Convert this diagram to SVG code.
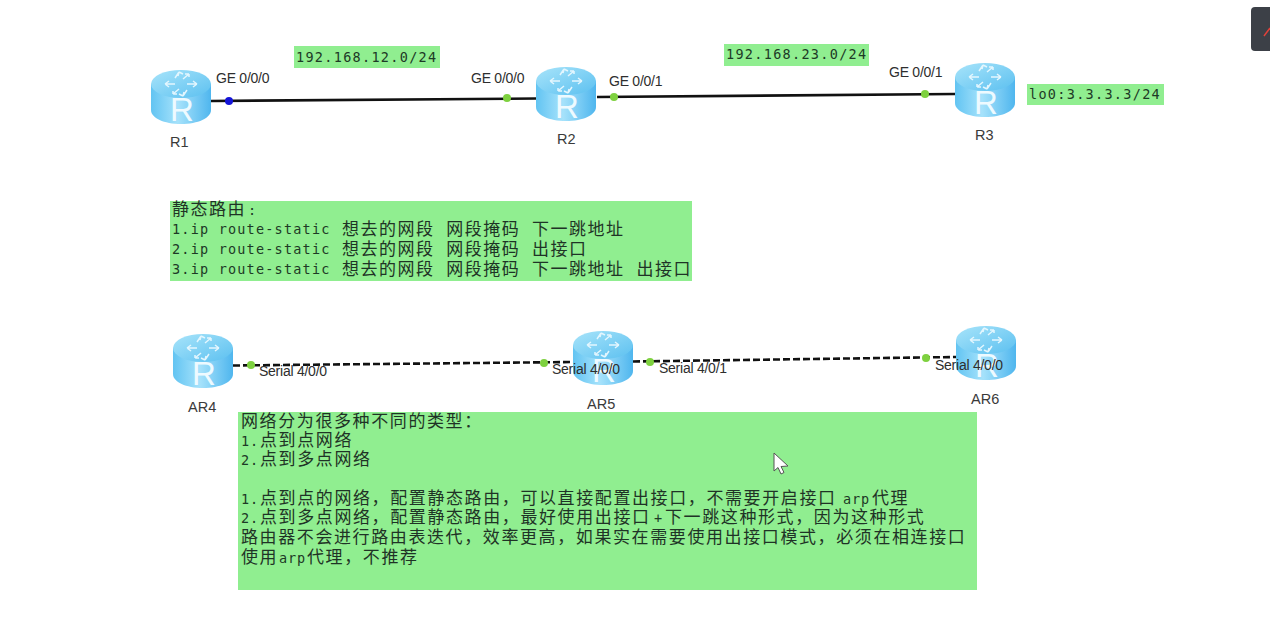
<svg xmlns="http://www.w3.org/2000/svg" width="1270" height="619" viewBox="0 0 1270 619">
<style>
.lbl{font-family:"Liberation Sans",Arial,sans-serif;font-size:14.5px;fill:#3a3a3a}
.if{font-family:"Liberation Sans",Arial,sans-serif;font-size:14px;fill:#2e2e2e;letter-spacing:-.25px}
.note{fill:#90ee90}
.mono{font-family:"DejaVu Sans Mono","Noto Sans CJK SC",monospace;font-size:13.5px;fill:#1d3a26;letter-spacing:.9px}
.cmd{font-family:"DejaVu Sans Mono",monospace;font-size:13.5px;fill:#1d3a26;letter-spacing:1.2px}
.net{font-family:"DejaVu Sans Mono",monospace;font-size:13.5px;fill:#1d3a26;letter-spacing:1.3px}
.cn{font-family:"Noto Sans CJK SC",sans-serif;font-size:17px;fill:#1f3326;letter-spacing:1.5px;word-spacing:6.5px}
.cn2{font-family:"Noto Sans CJK SC",sans-serif;font-size:17px;fill:#1f3326;letter-spacing:1.6px}
.solid{stroke:#111;stroke-width:2.6;fill:none}
.dash{stroke:#111;stroke-width:2.6;fill:none;stroke-dasharray:7 3}
.pg{fill:#7ed13f}
.pb{fill:#1414d8}
.rt{font-family:"Liberation Sans",Arial,sans-serif;font-size:33px;fill:#eefaff;text-anchor:middle}
</style>
<defs>
<linearGradient id="side" x1="0" x2="1" y1="0" y2="0">
<stop offset="0" stop-color="#62c4f2"/><stop offset=".45" stop-color="#a6e2fb"/><stop offset="1" stop-color="#4fb6ee"/>
</linearGradient>
<linearGradient id="top" x1="0" x2="1" y1="0" y2="1">
<stop offset="0" stop-color="#a8e4fa"/><stop offset="1" stop-color="#5cc0f0"/>
</linearGradient>
<g id="router">
<path d="M-30-13V13C-30 21-17 27 0 27S30 21 30 13V-13Z" fill="url(#side)"/>
<ellipse cx="0" cy="-13" rx="30" ry="14" fill="url(#top)"/>
<path d="M-16-13H-6M-16-13-12-16M-16-13-12-10M16-13H6M16-13 12-16M16-13 12-10M-2-25-6-19M-2-25 2-23M-2-25-3-21M2-1 6-7M2-1-2-3M2-1 3-5M8-23 2-18M8-23 4-23M8-23 8-20M-8-3-2-8M-8-3-4-3M-8-3-8-6" stroke="#e3f6fe" stroke-width="1.500" fill="none"/>
<text class="rt" y="24" x="1">R</text>
</g>
</defs>
<rect width="1270" height="619" fill="#fff"/>
<g id="connectors">
<path class="solid" d="M211 101 L537 98.500"/>
<path class="solid" d="M597 97 L955 94"/>
<path class="dash" d="M233 365.500 L573 362"/>
<path class="dash" d="M633 361.500 L956 357"/>
</g>
<g id="R1"><use href="#router" x="181" y="97"/><text class="lbl" x="170" y="147">R1</text></g>
<g id="R2"><use href="#router" x="566" y="94"/><text class="lbl" x="557" y="144">R2</text></g>
<g id="R3"><use href="#router" x="985" y="90"/><text class="lbl" x="975" y="140">R3</text></g>
<g id="AR4"><use href="#router" x="203" y="361"/><text class="lbl" x="188" y="412">AR4</text></g>
<g id="AR5"><use href="#router" x="603" y="358"/><text class="lbl" x="587" y="409">AR5</text></g>
<g id="AR6"><use href="#router" x="986" y="353"/><text class="lbl" x="971" y="404">AR6</text></g>
<g id="ports">
<circle class="pb" cx="229" cy="101" r="4"/>
<circle class="pg" cx="507" cy="98" r="4"/>
<circle class="pg" cx="614" cy="97" r="4"/>
<circle class="pg" cx="925" cy="94" r="4"/>
<circle class="pg" cx="251" cy="365" r="4"/>
<circle class="pg" cx="544" cy="363" r="4"/>
<circle class="pg" cx="650" cy="362" r="4"/>
<circle class="pg" cx="926" cy="358" r="4"/>
<text class="if" x="216" y="83">GE 0/0/0</text>
<text class="if" x="471" y="83">GE 0/0/0</text>
<text class="if" x="609" y="86">GE 0/0/1</text>
<text class="if" x="889" y="77">GE 0/0/1</text>
<text class="if" x="259" y="376">Serial 4/0/0</text>
<text class="if" x="552" y="374">Serial 4/0/0</text>
<text class="if" x="659" y="373">Serial 4/0/1</text>
<text class="if" x="935" y="370">Serial 4/0/0</text>
</g>
<g id="net12"><rect class="note" x="294" y="46" width="146" height="22"/><text class="net" x="296" y="62">192.168.12.0/24</text></g>
<g id="net23"><rect class="note" x="724" y="44" width="145" height="22"/><text class="net" x="726" y="59">192.168.23.0/24</text></g>
<g id="lo0"><rect class="note" x="1027" y="84" width="137" height="21"/><text class="net" x="1029" y="99" style="letter-spacing:1.3px">lo0:3.3.3.3/24</text></g>
<g id="static-note">
<rect class="note" x="170" y="201" width="522" height="80"/>
<text class="cn" x="172" y="215">静态路由<tspan class="cmd" x="248">:</tspan></text>
<text class="cmd" x="172" y="234">1.ip route-static</text><text class="cn" x="342" y="235">想去的网段 网段掩码 下一跳地址</text>
<text class="cmd" x="172" y="254">2.ip route-static</text><text class="cn" x="342" y="255">想去的网段 网段掩码 出接口</text>
<text class="cmd" x="172" y="274">3.ip route-static</text><text class="cn" x="342" y="275">想去的网段 网段掩码 下一跳地址 出接口</text>
</g>
<g id="network-note">
<rect class="note" x="238" y="412" width="739" height="178"/>
<text class="cn2" x="241" y="427">网络分为很多种不同的类型：</text>
<text class="cn2" x="241" y="446"><tspan class="mono">1.</tspan><tspan x="260">点到点网络</tspan></text>
<text class="cn2" x="241" y="465"><tspan class="mono">2.</tspan><tspan x="260">点到多点网络</tspan></text>
<text class="cn2" x="241" y="504"><tspan class="mono">1.</tspan><tspan x="260">点到点的网络，配置静态路由，可以直接配置出接口，不需要开启接口</tspan><tspan class="mono" x="843">arp</tspan><tspan x="872">代理</tspan></text>
<text class="cn2" x="241" y="523"><tspan class="mono">2.</tspan><tspan x="260">点到多点网络，配置静态路由，最好使用出接口</tspan><tspan class="mono" x="654">+</tspan><tspan x="665">下一跳这种形式，因为这种形式</tspan></text>
<text class="cn2" x="241" y="543">路由器不会进行路由表迭代，效率更高，如果实在需要使用出接口模式，必须在相连接口</text>
<text class="cn2" x="241" y="563">使用<tspan class="mono" x="279">arp</tspan><tspan x="307">代理，不推荐</tspan></text>
</g>
<path id="cursor" d="M774 453V471L778 467.500 781 474 784 472.500 781 466.500 788 466Z" fill="#fff" stroke="#555" stroke-width="1"/>
<g id="overlay">
<rect x="1251" y="7" width="30" height="44" rx="4" fill="#3c4047"/>
<path d="M1264 36 1270 28" stroke="#e0413a" stroke-width="1.500"/>
</g>
</svg>
